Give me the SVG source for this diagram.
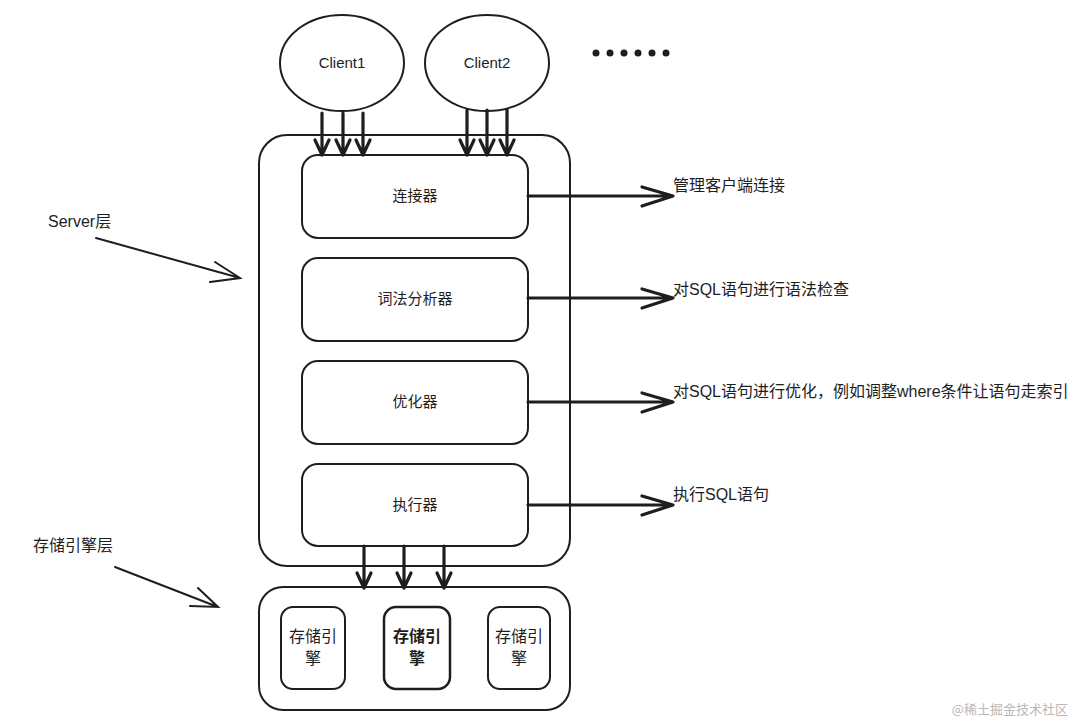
<svg xmlns="http://www.w3.org/2000/svg" width="1080" height="722" viewBox="0 0 1080 722">
<defs>
<style>
.box{fill:none;stroke:#1e1e1e;stroke-width:2}
.ln{fill:none;stroke:#1e1e1e;stroke-width:3.2;stroke-linecap:round;stroke-linejoin:round}
.thin{fill:none;stroke:#1e1e1e;stroke-width:2;stroke-linecap:round}
.t{font-family:"Liberation Sans","Noto Sans CJK SC",sans-serif;font-size:15px;fill:#1e1e1e}
.l{font-size:16px}
.c{text-anchor:middle}
</style>
</defs>
<rect width="1080" height="722" fill="#fff"/>

<g id="client1">
<ellipse class="box" cx="342" cy="63" rx="62" ry="48"/>
<text class="t c" x="342" y="68">Client1</text>
</g>
<g id="client2">
<ellipse class="box" cx="487" cy="63" rx="62" ry="48"/>
<text class="t c" x="487" y="68">Client2</text>
</g>
<g id="dots" fill="#1e1e1e">
<circle cx="596" cy="53" r="3.5"/><circle cx="610" cy="53" r="3.5"/><circle cx="624" cy="53" r="3.5"/>
<circle cx="638" cy="53" r="3.5"/><circle cx="652" cy="53" r="3.5"/><circle cx="666" cy="53" r="3.5"/>
</g>

<g id="server">
<rect class="box" x="259" y="135" width="311" height="431" rx="28"/>
</g>
<g id="connector">
<rect class="box" x="302" y="155" width="226" height="83" rx="16"/>
<text class="t c" x="415" y="201">连接器</text>
</g>
<g id="parser">
<rect class="box" x="302" y="258" width="226" height="83" rx="16"/>
<text class="t c" x="415" y="304">词法分析器</text>
</g>
<g id="optimizer">
<rect class="box" x="302" y="361" width="226" height="83" rx="16"/>
<text class="t c" x="415" y="407">优化器</text>
</g>
<g id="executor">
<rect class="box" x="302" y="464" width="226" height="82" rx="16"/>
<text class="t c" x="415" y="510">执行器</text>
</g>

<g id="storage">
<rect class="box" x="259" y="587" width="311" height="123" rx="24"/>
</g>
<g id="engine1">
<rect class="box" x="281" y="607" width="64" height="82" rx="12"/>
<text class="t c l" x="313" y="642">存储引</text>
<text class="t c l" x="313" y="664">擎</text>
</g>
<g id="engine2">
<rect class="box" x="384" y="607" width="66" height="82" rx="12" style="stroke-width:2.5"/>
<text class="t c l" x="417" y="642" style="font-weight:bold">存储引</text>
<text class="t c l" x="417" y="664" style="font-weight:bold">擎</text>
</g>
<g id="engine3">
<rect class="box" x="488" y="607" width="62" height="82" rx="12"/>
<text class="t c l" x="519" y="642">存储引</text>
<text class="t c l" x="519" y="664">擎</text>
</g>

<g id="labels">
<text class="t l" x="48" y="227">Server层</text>
<text class="t l" x="33" y="551">存储引擎层</text>
<text class="t l" x="673" y="191">管理客户端连接</text>
<text class="t l" x="673" y="295">对SQL语句进行语法检查</text>
<text class="t l" x="673" y="397">对SQL语句进行优化，例如调整where条件让语句走索引</text>
<text class="t l" x="673" y="500">执行SQL语句</text>
<text x="1068" y="714" text-anchor="end" style="font-family:'Noto Sans CJK SC',sans-serif;font-size:13px;fill:#b8b8b8">@稀土掘金技术社区</text>
</g>

<g id="connectors">
<path class="ln" d="M322 113 V152 M315 140 L322 155 L329 140"/>
<path class="ln" d="M343 113 V152 M336 140 L343 155 L350 140"/>
<path class="ln" d="M363 113 V152 M356 140 L363 155 L370 140"/>
<path class="ln" d="M467 110 V152 M460 140 L467 155 L474 140"/>
<path class="ln" d="M487 110 V152 M480 140 L487 155 L494 140"/>
<path class="ln" d="M507 110 V152 M500 140 L507 155 L514 140"/>
<path class="ln" d="M528 196 H673 M642 187 L673 196 L642 206"/>
<path class="ln" d="M528 298 H673 M642 289 L673 298 L642 308"/>
<path class="ln" d="M528 402 H673 M642 393 L673 402 L642 412"/>
<path class="ln" d="M528 505 H673 M642 496 L673 505 L642 515"/>
<path class="ln" d="M364 546 V585 M357 573 L364 588 L371 573"/>
<path class="ln" d="M404 546 V585 M397 573 L404 588 L411 573"/>
<path class="ln" d="M444 546 V585 M437 573 L444 588 L451 573"/>
<path class="thin" d="M96 238 L240 278 M215 262 L240 278 L210 282"/>
<path class="thin" d="M115 567 L218 607 M198 588 L218 607 L190 606"/>
</g>
</svg>
